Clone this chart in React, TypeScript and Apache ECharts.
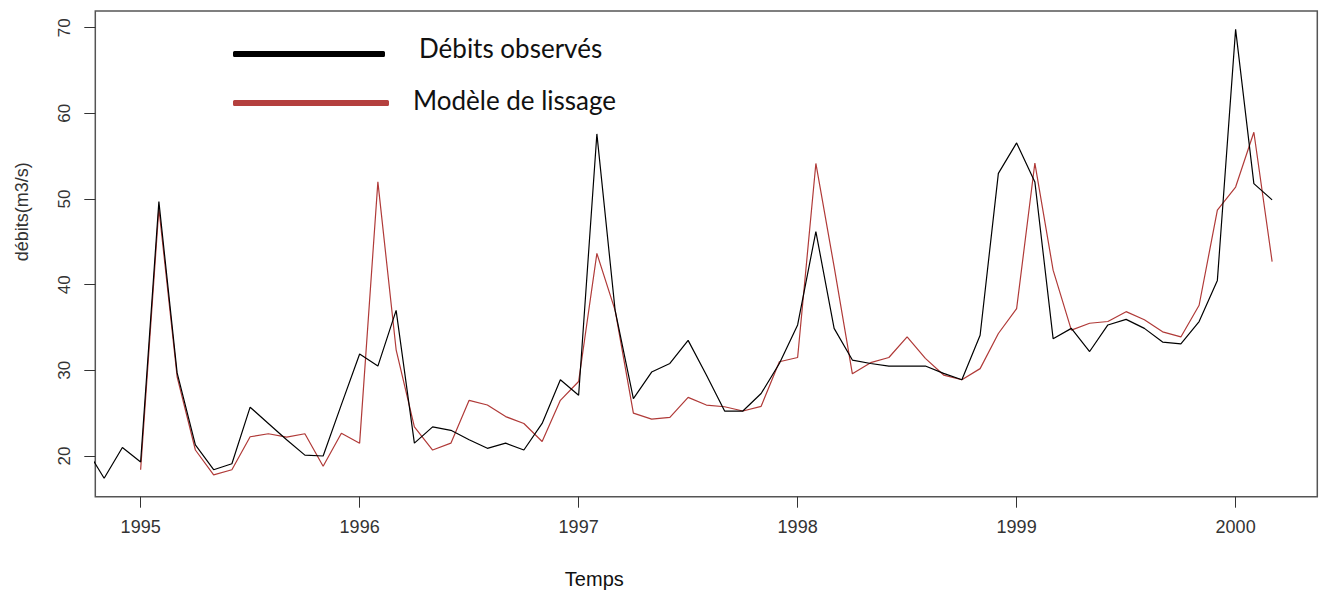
import React, { useEffect, useRef } from "react";
import * as echarts from "echarts";

// Monthly flows, black series starts Oct 1994, model starts Jan 1995
const observedStart = 1994 + 9 / 12;
const modelStart = 1995;
const observedValues = [
  20.9, 17.4, 21.0,
  19.3, 49.7, 29.7, 21.3, 18.4, 19.1, 25.7, 23.8, 21.9, 20.1, 20.0, 26.0,
  31.9, 30.5, 37.0, 21.5, 23.4, 23.0, 21.9, 20.9, 21.5, 20.7, 23.8, 28.9,
  27.1, 57.6, 37.0, 26.7, 29.8, 30.8, 33.5, 29.45, 25.25, 25.25, 27.3, 30.8,
  35.3, 46.2, 34.9, 31.2, 30.8, 30.5, 30.5, 30.5, 29.65, 28.9, 34.1, 53.0,
  56.55, 52.0, 33.7, 34.9, 32.2, 35.3, 35.95, 34.9, 33.3, 33.1, 35.7, 40.5,
  69.8, 51.8, 49.9,
];
const modelValues = [
  18.4, 48.9, 29.25, 20.7, 17.8, 18.4, 22.25, 22.6, 22.2, 22.6, 18.8, 22.65,
  21.5, 52.0, 32.4, 23.4, 20.7, 21.5, 26.5, 25.95, 24.6, 23.8, 21.7, 26.5,
  28.7, 43.65, 37.0, 25.0, 24.3, 24.5, 26.85, 25.95, 25.75, 25.25, 25.8, 31.0,
  31.5, 54.15, 42.1, 29.6, 30.9, 31.5, 33.9, 31.4, 29.45, 28.9, 30.2, 34.3,
  37.2, 54.2, 41.7, 34.7, 35.5, 35.7, 36.85, 35.9, 34.5, 33.9, 37.6, 48.7,
  51.4, 57.8, 42.7,
];
const xTicks = [1995, 1996, 1997, 1998, 1999, 2000];
const yTicks = [20, 30, 40, 50, 60, 70];

const toPairs = (start: number, vals: number[]) =>
  vals.map((v, i) => [start + i / 12, v]);

export default function App() {
  const ref = useRef<HTMLDivElement>(null);
  useEffect(() => {
    if (!ref.current) return;
    const chart = echarts.init(ref.current, undefined, { renderer: "svg" });
    const labelFont = "Liberation Sans, Arial, sans-serif";
    chart.setOption({
      animation: false,
      backgroundColor: "#ffffff",
      grid: {
        left: 95.3,
        right: 1.7,
        top: 11,
        bottom: 99.3,
        show: true,
        borderColor: "#555555",
        borderWidth: 1.5,
      },
      legend: [
        {
          data: [{ name: "Débits observés", itemStyle: { color: "#000000" } }],
          left: 228,
          top: 30,
          orient: "vertical",
          icon: "roundRect",
          itemWidth: 152,
          itemHeight: 6,
          selectedMode: false,
          formatter: "{a|{name}}",
          textStyle: {
            rich: {
              a: {
                fontFamily: "Lato, sans-serif",
                fontSize: 26,
                color: "#111111",
                padding: [0, 0, 12, 29],
              },
            },
          },
        },
        {
          data: [{ name: "Modèle de lissage", itemStyle: { color: "#b4403e" } }],
          left: 228,
          top: 82,
          orient: "vertical",
          icon: "roundRect",
          itemWidth: 156,
          itemHeight: 6,
          selectedMode: false,
          formatter: "{a|{name}}",
          textStyle: {
            rich: {
              a: {
                fontFamily: "Lato, sans-serif",
                fontSize: 26,
                color: "#111111",
                padding: [0, 0, 6, 19],
              },
            },
          },
        },
      ],
      xAxis: {
        type: "value",
        min: 1994.793,
        max: 2000.373,
        name: "Temps",
        nameLocation: "middle",
        nameGap: 72,
        nameTextStyle: {
          fontFamily: labelFont,
          fontSize: 20,
          color: "#111111",
          padding: [0, 224, 0, 0],
        },
        axisLine: { show: false },
        splitLine: { show: false },
        axisTick: {
          show: true,
          length: 11,
          customValues: xTicks,
          lineStyle: { color: "#333333", width: 1 },
        },
        axisLabel: {
          customValues: xTicks,
          margin: 21,
          fontFamily: labelFont,
          fontSize: 18,
          color: "#333333",
          formatter: (v: number) => String(Math.round(v)),
        },
      },
      yAxis: {
        type: "value",
        min: 15.25,
        max: 71.95,
        name: "débits(m3/s)",
        nameLocation: "middle",
        nameRotate: 90,
        nameGap: 64,
        nameTextStyle: {
          fontFamily: labelFont,
          fontSize: 18,
          color: "#333333",
          padding: [0, 0, 0, 84],
        },
        axisLine: { show: false },
        splitLine: { show: false },
        axisTick: {
          show: true,
          length: 11,
          customValues: yTicks,
          lineStyle: { color: "#333333", width: 1 },
        },
        axisLabel: {
          customValues: yTicks,
          rotate: 90,
          margin: 22,
          fontFamily: labelFont,
          fontSize: 17,
          color: "#333333",
        },
      },
      series: [
        {
          name: "Débits observés",
          type: "line",
          data: toPairs(observedStart, observedValues),
          showSymbol: false,
          symbol: "none",
          clip: true,
          lineStyle: { color: "#000000", width: 1.2 },
          itemStyle: { color: "#000000" },
          z: 3,
        },
        {
          name: "Modèle de lissage",
          type: "line",
          data: toPairs(modelStart, modelValues),
          showSymbol: false,
          symbol: "none",
          clip: true,
          lineStyle: { color: "#b03a38", width: 1.2 },
          itemStyle: { color: "#b03a38" },
          z: 2,
        },
      ],
    });
    return () => chart.dispose();
  }, []);
  return (
    <div
      ref={ref}
      style={{ position: "fixed", left: 0, top: 0, width: 1319, height: 596 }}
    />
  );
}
